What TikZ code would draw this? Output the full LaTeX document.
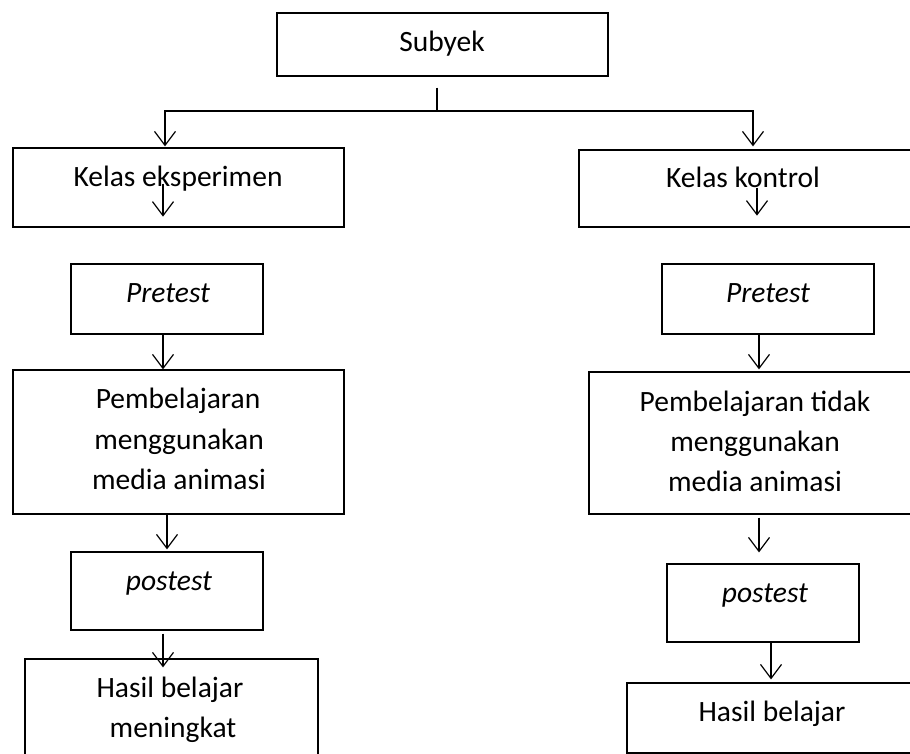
\documentclass[tikz,border=0pt]{standalone}
\usepackage{fontspec}
\setmainfont{Carlito}
\usetikzlibrary{arrows.meta}
\begin{document}
\begin{tikzpicture}[x=1pt,y=-1pt,line width=1.2pt,
  box/.style={draw,rectangle,inner sep=0pt},
  lbl/.style={anchor=base,inner sep=0pt,font=\fontsize{29.5}{40}\selectfont},
  ilbl/.style={lbl,font=\fontsize{29.5}{40}\selectfont\itshape},
  arr/.style={-{Straight Barb[length=14pt,width=21pt]}}]
\useasboundingbox (0,0) rectangle (910,754);
\clip (0,0) rectangle (910,754);
% boxes
\node[box,minimum width=331pt,minimum height=63pt] (subyek) at (442.5,44.5) {};
\node[box,minimum width=331pt,minimum height=79pt] (kE) at (178.5,187.5) {};
\node[box,minimum width=366pt,minimum height=77pt] (kK) at (762,188.5) {};
\node[box,minimum width=192pt,minimum height=70pt] (preL) at (167,299) {};
\node[box,minimum width=331pt,minimum height=144pt] (pemL) at (178.5,442) {};
\node[box,minimum width=192pt,minimum height=78pt] (postL) at (167,591) {};
\node[box,minimum width=293pt,minimum height=131pt] (hasL) at (171.5,724.5) {};
\node[box,minimum width=212pt,minimum height=70pt] (preR) at (768,299) {};
\node[box,minimum width=356pt,minimum height=142pt] (pemR) at (767,443) {};
\node[box,minimum width=192pt,minimum height=78pt] (postR) at (763,603) {};
\node[box,minimum width=318pt,minimum height=70pt] (hasR) at (786,718) {};
% texts
\node[lbl] (tSub) at (442,52) {Subyek};
\node[lbl] (tKE) at (178,187) {Kelas eksperimen};
\node[lbl] (tKK) at (743,188) {Kelas kontrol};
\node[ilbl] (tPreL) at (168,302) {Pretest};
\node[lbl] (tPemL1) at (178,408) {Pembelajaran};
\node[lbl] (tPemL2) at (179,449) {menggunakan};
\node[lbl] (tPemL3) at (179,489) {media animasi};
\node[ilbl] (tPostL) at (169,590) {postest};
\node[lbl] (tHasL1) at (170,697) {Hasil belajar};
\node[lbl] (tHasL2) at (173,737) {meningkat};
\node[ilbl] (tPreR) at (768,302) {Pretest};
\node[lbl] (tPemR1) at (755,411) {Pembelajaran tidak};
\node[lbl] (tPemR2) at (755,451) {menggunakan};
\node[lbl] (tPemR3) at (755,491) {media animasi};
\node[ilbl] (tPostR) at (765,602) {postest};
\node[lbl] (tHasR) at (772,721) {Hasil belajar};
% connectors
\coordinate (st) at ([xshift=-5.5pt,yshift=-11pt]subyek.south);
\coordinate (jn) at (437,111);
\coordinate (tl) at ([xshift=-13.5pt,yshift=1pt]kE.north);
\coordinate (tr) at ([xshift=-9pt,yshift=3pt]kK.north);
\draw (st) -- (jn);
\draw[arr] (jn) -| (tl);
\draw[arr] (jn) -| (tr);
\draw[arr] ([xshift=-15.5pt,yshift=44pt]kE.south) -- ([xshift=-15.5pt,yshift=11pt]kE.south);
\draw[arr] ([xshift=-5pt,yshift=40pt]kK.south) -- ([xshift=-5pt,yshift=12pt]kK.south);
\draw[arr] ([xshift=-4pt]preL.south) -- ([xshift=-15.5pt]pemL.north);
\draw[arr] ([xshift=-11.5pt]pemL.south) -- ([xshift=0pt,yshift=2pt]postL.north);
\draw[arr] ([xshift=-4pt,yshift=-3pt]postL.south) -- ([xshift=-8.5pt,yshift=-9pt]hasL.north);
\draw[arr] ([xshift=-9pt]preR.south) -- ([xshift=-8pt,yshift=2pt]pemR.north);
\draw[arr] ([xshift=-8pt,yshift=-3pt]pemR.south) -- ([xshift=-4pt,yshift=11pt]postR.north);
\draw[arr] ([xshift=8pt]postR.south) -- ([xshift=-15pt,yshift=3pt]hasR.north);
\end{tikzpicture}
\end{document}
